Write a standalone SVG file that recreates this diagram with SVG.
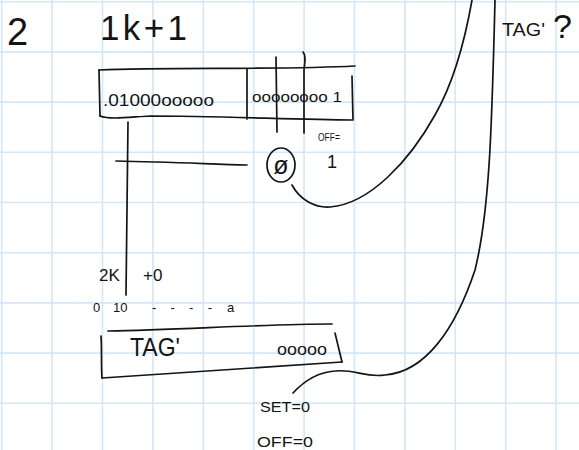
<svg xmlns="http://www.w3.org/2000/svg" width="579" height="450" viewBox="0 0 579 450">
  <style>
    .grid { stroke: #d3e7f9; stroke-width: 1.6; fill: none; }
    .ink { stroke: #141414; stroke-width: 1.7; fill: none; stroke-linecap: round; stroke-linejoin: round; }
    .hand { font-family: "Liberation Sans", "DejaVu Sans", sans-serif; fill: #141414; }
  </style>

  <!-- squared paper -->
  <rect width="579" height="450" fill="#ffffff"/>
  <path class="grid" d="M1.7,0V450 M52.1,0V450 M102.5,0V450 M152.9,0V450 M203.3,0V450 M253.7,0V450 M304.1,0V450 M354.5,0V450 M404.9,0V450 M455.3,0V450 M505.7,0V450 M556.1,0V450
                        M0,1.7H579 M0,51.9H579 M0,102.1H579 M0,152.3H579 M0,202.5H579 M0,252.7H579 M0,302.9H579 M0,353.1H579 M0,403.3H579"/>

  <!-- headings -->
  <g id="heading">
    <text class="hand" x="7" y="45" font-size="38">2</text>
    <text class="hand" x="100" y="40" font-size="35" textLength="87" lengthAdjust="spacing">1k+1</text>
  </g>

  <!-- upper register: 1k+1 -->
  <g id="register-top">
    <path class="ink" d="M99,70 C170,67 280,70 355,66"/>
    <path class="ink" d="M99,70 L100,116"/>
    <path class="ink" d="M100,116 C110,120 130,117 150,116 C220,116 300,120 352,120"/>
    <path class="ink" d="M352,76 L353,120"/>
    <path class="ink" d="M247,69 L247,119"/>
    <text class="hand" x="103" y="106" font-size="17" textLength="111" lengthAdjust="spacingAndGlyphs">.01000ooooo</text>
    <text class="hand" x="252" y="102" font-size="15" textLength="90" lengthAdjust="spacingAndGlyphs">oooooooo 1</text>
  </g>

  <!-- offset marker -->
  <g id="offset">
    <text class="hand" x="318" y="141" font-size="10" textLength="22" lengthAdjust="spacingAndGlyphs">OFF=</text>
    <text class="hand" x="327" y="168" font-size="18">1</text>
  </g>

  <!-- circled empty set -->
  <g id="empty-slot">
    <ellipse class="ink" cx="281" cy="165" rx="14" ry="17"/>
    <text class="hand" x="281" y="174" font-size="25" text-anchor="middle">ø</text>
  </g>

  <!-- lower register: 2k+0 -->
  <g id="label-2k">
    <text class="hand" font-size="17"><tspan x="99" y="281">2K</tspan><tspan x="143" y="281">+0</tspan></text>
    <text class="hand" font-size="13"><tspan x="93" y="312">0</tspan><tspan x="113" y="312">10</tspan><tspan x="152" y="312" textLength="60" lengthAdjust="spacing">- - - -</tspan><tspan x="227" y="312">a</tspan></text>
  </g>

  <g id="register-bottom">
    <path class="ink" d="M108,331 C180,330 260,324 332,324"/>
    <path class="ink" d="M101,336 C102,350 101,365 102,378"/>
    <path class="ink" d="M102,378 C180,373 260,367 342,362"/>
    <path class="ink" d="M335,333 L342,362"/>
    <text class="hand" x="130" y="356" font-size="26" textLength="50" lengthAdjust="spacingAndGlyphs">TAG'</text>
    <text class="hand" x="277" y="355" font-size="17" textLength="50" lengthAdjust="spacingAndGlyphs">ooooo</text>
  </g>

  <g id="reset-values">
    <text class="hand" x="260" y="412" font-size="14" textLength="50" lengthAdjust="spacingAndGlyphs">SET=0</text>
    <text class="hand" x="257" y="447" font-size="14" textLength="56" lengthAdjust="spacingAndGlyphs">OFF=0</text>
  </g>

  <g id="tag-question">
    <text class="hand" x="502" y="36" font-size="19" textLength="43" lengthAdjust="spacingAndGlyphs">TAG'</text>
    <text class="hand" x="553" y="38" font-size="34">?</text>
  </g>

  <!-- connecting strokes -->
  <g id="connectors">
    <path class="ink" d="M128,122 L126,295"/>
    <path class="ink" d="M116,161 C170,162 210,164 247,165"/>
    <path class="ink" d="M276,57 L277,132"/>
    <path class="ink" d="M303,52 C306,55 305,62 304,70 L304,133"/>
    <path class="ink" d="M292,185 C300,200 315,208 330,207 C370,204 410,160 435,115 C455,80 465,40 472,0"/>
    <path class="ink" d="M293,393 C305,380 320,372 335,371 C355,369 365,378 385,375 C425,372 455,330 475,270 C490,210 492,120 495,0"/>
  </g>
</svg>
